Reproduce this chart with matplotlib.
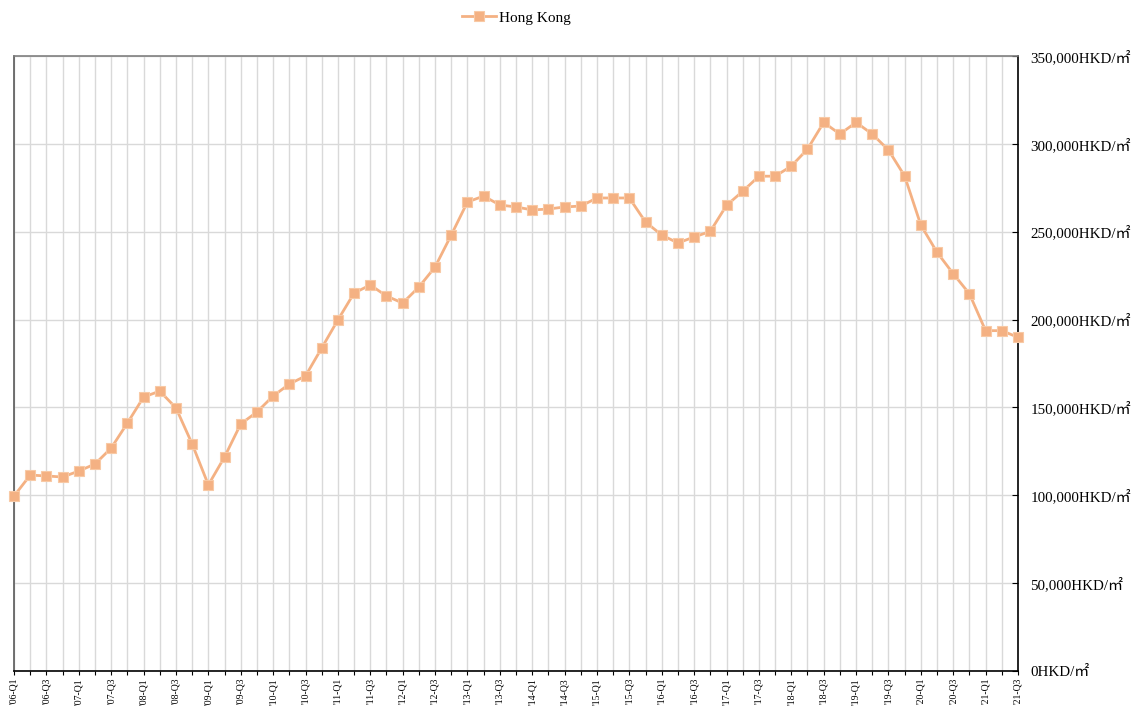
import numpy as np
import matplotlib
matplotlib.use('Agg')
import matplotlib.pyplot as plt
from matplotlib.ticker import FuncFormatter, MultipleLocator

plt.rcParams['font.family'] = ['Liberation Serif', 'Noto Sans CJK JP']

# Quarterly price, Hong Kong (HKD / m2)
years    = list(range(2006, 2022))
quarters = ['Q1', 'Q2', 'Q3', 'Q4']
labels   = ["'%02d-%s" % (y % 100, q) for y in years for q in quarters][:63]

hong_kong = [99600, 111500, 111000, 110400, 113800, 117800, 126900, 141100,
             155900, 159300, 149700, 129200, 105900, 121800, 140600, 147400,
             156500, 163300, 167900, 183800, 199800, 215100, 219700, 213400,
             209400, 218500, 229900, 248100, 266900, 270300, 265200, 264100,
             262400, 262900, 264100, 264600, 269200, 269200, 269200, 255500,
             248100, 243600, 247000, 250200, 265000, 273000, 281600, 281600,
             287300, 297000, 312200, 305600, 312200, 305600, 296500, 281700,
             253800, 238300, 226100, 214700, 193700, 193700, 189900]

x = np.arange(len(hong_kong))

fig = plt.figure(figsize=(11.42, 7.09), dpi=100)
ax = fig.add_axes([0.0123, 0.0536, 0.8791, 0.8674])

line, = ax.plot(x, hong_kong, color='#F4B183', linewidth=2.0, marker='s',
                markersize=6.8, markeredgewidth=0.8, markeredgecolor='#F8C9A5',
                clip_on=False, zorder=5, label='Hong Kong')

ax.set_xlim(0, len(hong_kong) - 1)
ax.set_ylim(0, 350000)

# x axis: tick each quarter, label Q1 and Q3
ax.set_xticks(x)
ax.set_xticklabels([l if (i % 2 == 0) else '' for i, l in enumerate(labels)],
                   rotation=90, fontsize=7)
ax.tick_params(axis='x', direction='out', length=3, width=0.8, pad=2)

# y axis on the right
ax.yaxis.tick_right()
ax.yaxis.set_major_locator(MultipleLocator(50000))
ax.yaxis.set_major_formatter(FuncFormatter(lambda v, p: '{:,.0f}HKD/㎡'.format(v)))
ax.tick_params(axis='y', direction='in', length=4, width=0.8, labelsize=10.8, pad=9)

ax.grid(True, which='major', color='#D9D9D9', linewidth=1.0, zorder=0)
ax.set_axisbelow(True)

ax.spines['left'].set_color('#595959')
ax.spines['top'].set_color('#7F7F7F')
ax.spines['right'].set_color('black')
ax.spines['bottom'].set_color('black')
for s in ax.spines.values():
    s.set_linewidth(1.2)

fig.legend(handles=[line], loc='center', bbox_to_anchor=(0.452, 0.975),
           frameon=False, fontsize=11, handlelength=2.2, handletextpad=0.2)

plt.savefig('out.png', dpi=100)
